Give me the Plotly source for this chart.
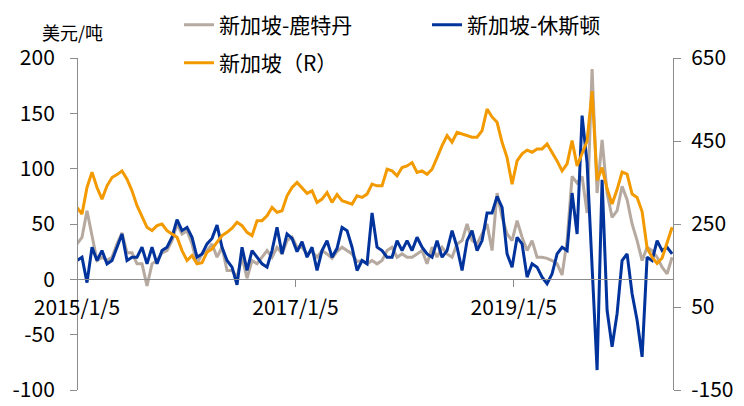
import pandas as pd
import plotly.graph_objects as go

# ---- data ----
start_date = "2015-01-05"
end_date = "2020-06-18"
n_points = 120

sg_rotterdam = [
    32, 38, 62, 38, 17, 20, 17, 20, 32, 42, 24, 24, 14, 14, -6, 14, 17, 24, 26, 35,
    50, 41, 44, 32, 14, 23, 26, 32, 20, 29, 8, 8, 2, 20, 1, 17, 14, 20, 26, 20,
    29, 23, 35, 38, 29, 29, 23, 25, 20, 26, 23, 19, 25, 29, 26, 23, 16, 17, 14, 17,
    14, 17, 26, 29, 20, 23, 20, 20, 23, 26, 14, 29, 20, 29, 23, 20, 32, 35, 50, 35,
    32, 41, 50, 26, 78, 56, 41, 35, 53, 38, 26, 35, 20, 20, 19, 17, 14, 4, 35, 93,
    87, 93, 60, 190, 78, 126, 78, 56, 62, 84, 72, 50, 35, 17, 29, 26, 20, 11, 5, 20,
]
sg_houston = [
    17, 20, -3, 29, 17, 26, 14, 17, 29, 41, 17, 20, 20, 29, 14, 29, 14, 26, 29, 38,
    54, 44, 47, 38, 20, 23, 32, 37, 49, 29, 17, 11, -5, 29, 8, 26, 20, 14, 11, 26,
    47, 23, 41, 37, 25, 34, 20, 29, 8, 26, 35, 20, 28, 47, 44, 29, 8, 17, 14, 60,
    29, 26, 20, 20, 35, 26, 35, 26, 38, 29, 23, 20, 35, 20, 26, 44, 29, 8, 35, 44,
    26, 35, 60, 60, 75, 65, 23, 11, 38, 32, 2, 14, 11, 2, -4, 5, 23, 29, 26, 78,
    41, 148, 105, 17, -82, 90, -28, -61, -31, 17, 23, -13, -37, -70, 20, 17, 35, 26, 29, 23,
]
singapore_r = [
    290, 274, 338, 375, 338, 310, 342, 362, 369, 378, 358, 330, 294, 270, 242, 234, 246, 250, 234, 226,
    218, 186, 162, 174, 154, 157, 182, 190, 206, 222, 230, 240, 254, 246, 230, 222, 258, 258, 270, 290,
    278, 282, 318, 338, 350, 338, 324, 330, 302, 310, 326, 302, 321, 306, 302, 298, 318, 314, 322, 346,
    342, 342, 382, 378, 366, 386, 390, 398, 374, 378, 370, 382, 410, 439, 463, 447, 471, 467, 463, 459,
    459, 475, 527, 508, 495, 447, 410, 346, 402, 419, 428, 423, 431, 431, 443, 423, 402, 378, 395, 451,
    390, 420, 450, 570, 355, 386, 335, 298, 333, 375, 370, 322, 314, 280, 192, 170, 155, 168, 205, 242,
]

x_tickvals = ["2015-01-05", "2017-01-05", "2019-01-05"]
x_ticktext = ["2015/1/5", "2017/1/5", "2019/1/5"]
left_ticks = [-100, -50, 0, 50, 100, 150, 200]
left_ticktext = ["-100", "-50", "0", "50", "100", "150", "200"]
right_ticks = [-150, 50, 250, 450, 650]
right_ticktext = ["-150", "50", "250", "450", "650"]

names = ["新加坡-鹿特丹", "新加坡-休斯顿", "新加坡（R）"]
colors = ["#B6A99F", "#00339C", "#F29A00"]

dates = pd.date_range(start=start_date, end=end_date, periods=n_points)

FONT = "Noto Sans CJK SC, Noto Sans, sans-serif"
AXIS_COLOR = "#8C8C8C"

# the page body adds an 8px offset; the figure is sized to fit the 744x406 window
OFF = 8
W, H = 744 - OFF, 406 - OFF
plot_left, plot_right, plot_top, plot_bottom = 77, 673, 58, 390   # page pixels
ml = plot_left - OFF
mr = W - (plot_right - OFF)
mt = plot_top - OFF
mb = H - (plot_bottom - OFF)
plot_h = plot_bottom - plot_top
plot_w = plot_right - plot_left


def px_to_paper_y(py):
    return (plot_bottom - py) / plot_h


def px_to_paper_x(px):
    return (px - plot_left) / plot_w


fig = go.Figure()
fig.add_trace(go.Scatter(x=dates, y=sg_rotterdam, name=names[0], mode="lines",
                         line=dict(color=colors[0], width=3), legend="legend"))
fig.add_trace(go.Scatter(x=dates, y=sg_houston, name=names[1], mode="lines",
                         line=dict(color=colors[1], width=3), legend="legend2"))
fig.add_trace(go.Scatter(x=dates, y=singapore_r, name=names[2], mode="lines",
                         line=dict(color=colors[2], width=3), yaxis="y2", legend="legend3"))

fig.update_layout(
    width=W, height=H,
    margin=dict(l=ml, r=mr, t=mt, b=mb, autoexpand=False),
    paper_bgcolor="white", plot_bgcolor="white",
    font=dict(family=FONT, size=21, color="#000000"),
    showlegend=True,
    xaxis=dict(
        type="date",
        range=["2015-01-05", "2020-06-21"],
        tickvals=x_tickvals, ticktext=x_ticktext,
        showgrid=False, zeroline=False,
        showline=True, linecolor=AXIS_COLOR, linewidth=1,
        ticks="outside", ticklen=7, tickcolor=AXIS_COLOR,
        ticklabelstandoff=2,
        anchor="free", position=(0 - (-100)) / 300,
        tickfont=dict(size=21),
    ),
    yaxis=dict(
        range=[-100, 200], tickvals=left_ticks, ticktext=left_ticktext,
        showgrid=False, zeroline=False,
        showline=True, linecolor=AXIS_COLOR, linewidth=1,
        ticks="outside", ticklen=7, tickcolor=AXIS_COLOR,
        ticklabelstandoff=11,
        anchor="free", position=0,
        tickfont=dict(size=21),
    ),
    yaxis2=dict(
        range=[-150, 650], tickvals=right_ticks, ticktext=right_ticktext,
        overlaying="y", side="right",
        showgrid=False, zeroline=False,
        showline=True, linecolor=AXIS_COLOR, linewidth=1,
        ticks="outside", ticklen=7, tickcolor=AXIS_COLOR,
        ticklabelstandoff=6,
        anchor="free", position=1,
        tickfont=dict(size=21),
    ),
    legend=dict(x=px_to_paper_x(179), y=px_to_paper_y(25), xanchor="left", yanchor="middle",
                orientation="h", bgcolor="rgba(0,0,0,0)", font=dict(size=21)),
    legend2=dict(x=px_to_paper_x(427), y=px_to_paper_y(25), xanchor="left", yanchor="middle",
                 orientation="h", bgcolor="rgba(0,0,0,0)", font=dict(size=21)),
    legend3=dict(x=px_to_paper_x(179), y=px_to_paper_y(63), xanchor="left", yanchor="middle",
                 orientation="h", bgcolor="rgba(0,0,0,0)", font=dict(size=21)),
    annotations=[dict(text="美元/吨", xref="paper", yref="paper",
                      x=px_to_paper_x(40), y=px_to_paper_y(32),
                      xanchor="left", yanchor="middle", showarrow=False,
                      font=dict(size=18, color="#000000"))],
)

fig.write_html("out.html")
